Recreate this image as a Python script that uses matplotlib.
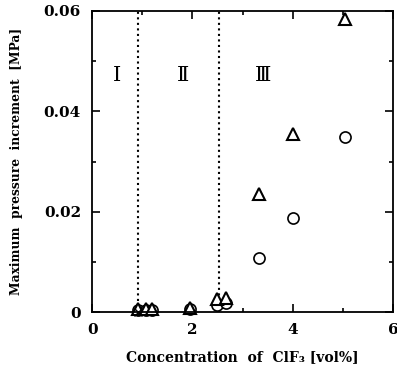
import matplotlib
matplotlib.use("Agg")
import matplotlib.pyplot as plt
from matplotlib.ticker import MultipleLocator

plt.rcParams['font.family'] = ['DejaVu Serif']
plt.rcParams['font.weight'] = 'bold'

# data
tri_x = [0.91, 1.07, 1.19, 1.96, 2.50, 2.66, 3.32, 4.00, 5.04]
tri_y = [0.0007, 0.0007, 0.0007, 0.0009, 0.0026, 0.0028, 0.0236, 0.0354, 0.0584]
circ_x = [0.91, 1.07, 1.19, 1.96, 2.50, 2.66, 3.32, 4.00, 5.04]
circ_y = [0.0004, 0.0004, 0.0004, 0.0006, 0.0014, 0.0018, 0.0108, 0.0188, 0.0348]
cross_x = [0.91]
cross_y = [0.0]
boundaries = [0.92, 2.54]
regions = ['Ⅰ', 'Ⅱ', 'Ⅲ']
region_x = [0.5, 1.82, 3.4]
region_y = 0.047
x_ticks = [0, 2, 4, 6]
y_ticks = [0, 0.02, 0.04, 0.06]
y_ticklabels = ['0', '0.02', '0.04', '0.06']

fig = plt.figure(figsize=(3.97, 3.77), dpi=100)
ax = fig.add_axes([0.232, 0.172, 0.758, 0.799])

for b in boundaries:
    ax.plot([b, b], [0, 0.06], color='black', linestyle=':', linewidth=1.5)

ax.plot(circ_x, circ_y, 'o', markersize=8, markerfacecolor='white',
        markeredgecolor='black', markeredgewidth=1.2, clip_on=False)
ax.plot(tri_x, tri_y, '^', markersize=9, markerfacecolor='white',
        markeredgecolor='black', markeredgewidth=1.5, clip_on=False)
ax.plot(cross_x, cross_y, 'x', markersize=6, color='black',
        markeredgewidth=1.0, clip_on=False, zorder=5)

for r, rx in zip(regions, region_x):
    ax.text(rx, region_y, r, ha='center', va='center', fontsize=15,
            fontweight='normal', family=['Liberation Serif', 'DejaVu Serif'])

ax.set_xlim(0, 6)
ax.set_ylim(0, 0.06)
ax.set_xticks(x_ticks)
ax.set_xticklabels([str(t) for t in x_ticks])
ax.xaxis.set_minor_locator(MultipleLocator(1))
ax.set_yticks(y_ticks)
ax.set_yticklabels(y_ticklabels)
ax.yaxis.set_minor_locator(MultipleLocator(0.01))
ax.tick_params(which='both', direction='in', top=True, right=True,
               labelsize=11, width=1.2)
ax.tick_params(which='major', length=6, pad=8)
ax.tick_params(which='minor', length=3)
for s in ax.spines.values():
    s.set_linewidth(1.3)

ax.set_xlabel('Concentration  of  ClF₃ [vol%]', fontsize=10,
              fontweight='bold', labelpad=9)
ax.set_ylabel('Maximum  pressure  increment  [MPa]', fontsize=8.8,
              fontweight='bold', labelpad=15)

fig.savefig('out.png', dpi=100)
